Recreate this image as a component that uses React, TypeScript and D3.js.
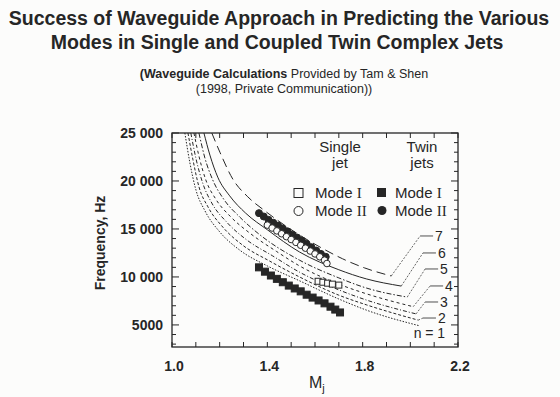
import React from "react";
import * as d3 from "d3";

// axis ticks
const mjTicks = d3.range(10, 23).map(d => d / 10);
const mjLabels = [1.0, 1.4, 1.8, 2.2];
const freqTicks = d3.range(3000, 25001, 1000);
const freqLabels = [5000, 10000, 15000, 20000, 25000];

// waveguide curves, n = 1..7  [Mj, frequency Hz]
const curveN1 = [[1.054, 25000], [1.075, 21900], [1.1, 19100], [1.138, 16900], [1.2, 14700], [1.284, 12800], [1.4, 11150], [1.535, 9600], [1.7, 7700], [1.815, 6550], [2.04, 4900]];
const curveN2 = [[1.067, 25000], [1.088, 22200], [1.113, 19400], [1.151, 17300], [1.213, 15200], [1.297, 13300], [1.41, 11650], [1.535, 10000], [1.7, 8100], [1.815, 7100], [2.033, 5500]];
const curveN3 = [[1.079, 25000], [1.1, 22400], [1.13, 19700], [1.167, 17700], [1.23, 15700], [1.314, 13850], [1.422, 12200], [1.535, 10500], [1.7, 8650], [1.815, 7600], [2.024, 6150]];
const curveN4 = [[1.092, 25000], [1.113, 22600], [1.142, 20100], [1.184, 18100], [1.247, 16250], [1.33, 14500], [1.439, 12650], [1.535, 11150], [1.7, 9250], [1.815, 8250], [2.012, 6900]];
const curveN5 = [[1.113, 25000], [1.138, 22400], [1.171, 20100], [1.217, 18100], [1.284, 16250], [1.376, 14250], [1.535, 11750], [1.7, 9900], [1.815, 8850], [1.987, 7900]];
const curveN6 = [[1.134, 25000], [1.159, 22700], [1.192, 20400], [1.242, 18450], [1.309, 16650], [1.401, 14900], [1.535, 12600], [1.7, 10750], [1.815, 9800], [1.962, 9050]];
const curveN7 = [[1.167, 25000], [1.201, 23000], [1.255, 20200], [1.318, 18350], [1.389, 16900], [1.472, 15400], [1.556, 14050], [1.644, 12800], [1.715, 11900], [1.807, 10950], [1.92, 10100]];

const curveNames = ["n = 1", "2", "3", "4", "5", "6", "7"];
// where each curve label sits (elbow of the leader line)
const labelMj = [2.08, 2.053, 2.062, 2.083, 2.062, 2.053, 2.041];
const labelFreq = [4160, 5720, 7390, 9060, 10830, 12500, 14270];

// measured modes
const twinModeIIMj = [1.365, 1.385, 1.405, 1.425, 1.445, 1.465, 1.485, 1.505, 1.525, 1.545, 1.565, 1.585, 1.605, 1.625, 1.645];
const twinModeIIFreq = [16650, 16300, 15950, 15650, 15350, 15050, 14750, 14400, 14100, 13800, 13450, 13100, 12750, 12400, 12100];
const singleModeIIMj = [1.4, 1.42, 1.44, 1.46, 1.48, 1.5, 1.52, 1.54, 1.56, 1.58, 1.6, 1.62, 1.64, 1.65];
const singleModeIIFreq = [15400, 15100, 14800, 14500, 14200, 13900, 13600, 13300, 13000, 12700, 12400, 12100, 11750, 11400];
const twinModeIMj = [1.365, 1.39, 1.415, 1.44, 1.465, 1.49, 1.515, 1.54, 1.565, 1.59, 1.615, 1.64, 1.665, 1.685, 1.705];
const twinModeIFreq = [11000, 10550, 10150, 9800, 9450, 9100, 8800, 8500, 8150, 7850, 7550, 7250, 6900, 6600, 6300];
const singleModeIMj = [1.613, 1.633, 1.653, 1.673, 1.7];
const singleModeIFreq = [9550, 9450, 9350, 9250, 9150];

const curves = [curveN1, curveN2, curveN3, curveN4, curveN5, curveN6, curveN7];
const dashes = ["1.5,1.5", "3,2", "4,2,1,2", "3,3", "5,2,1.5,2", "none", "9,5"];

const sans = "'Liberation Sans', Arial, sans-serif";
const serif = "'Liberation Serif', 'Times New Roman', serif";
const ink = "#262626";
const paper = "#fcfcfb";

const W = 560, H = 397;
const left = 172, right = 458, top = 133, bottom = 347;

export default function App() {
  const x = d3.scaleLinear().domain([1.0, 2.2]).range([left, right]);
  const y = d3.scaleLinear().domain([2700, 25000]).range([bottom, top]);
  const line = d3.line<number[]>().x(d => x(d[0])).y(d => y(d[1])).curve(d3.curveMonotoneX);
  const yFmt = (v: number) => (v >= 10000 ? `${Math.floor(v / 1000)} 000` : String(v));

  return (
    <svg width={W} height={H} style={{ position: "absolute", left: 0, top: 0, background: paper }}>
      <defs>
        <clipPath id="plot">
          <rect x={left} y={top} width={right - left} height={bottom - top} />
        </clipPath>
      </defs>

      {/* titles */}
      <g fill={ink} fontFamily={sans} textAnchor="middle">
        <text x={279} y={25} fontSize={19.5} fontWeight="bold">Success of Waveguide Approach in Predicting the Various</text>
        <text x={277} y={49} fontSize={19.5} fontWeight="bold">Modes in Single and Coupled Twin Complex Jets</text>
        <text x={284} y={78} fontSize={12.5}>
          <tspan fontWeight="bold">(Waveguide Calculations</tspan> Provided by Tam &amp; Shen
        </text>
        <text x={284} y={93} fontSize={12.5}>(1998, Private Communication))</text>
      </g>

      {/* frame + ticks */}
      <rect x={left} y={top} width={right - left} height={bottom - top} fill="none" stroke={ink} strokeWidth={1.3} />
      <g stroke={ink} strokeWidth={1}>
        {mjTicks.map(t => (
          <g key={"x" + t}>
            <line x1={x(t)} x2={x(t)} y1={bottom} y2={bottom - 5} />
            <line x1={x(t)} x2={x(t)} y1={top} y2={top + 5} />
          </g>
        ))}
        {freqTicks.map(t => {
          const len = t % 5000 === 0 ? 7 : 4;
          return (
            <g key={"y" + t}>
              <line x1={left} x2={left + len} y1={y(t)} y2={y(t)} />
              <line x1={right} x2={right - len} y1={y(t)} y2={y(t)} />
            </g>
          );
        })}
      </g>

      {/* tick labels */}
      <g fill={ink} fontFamily={sans} fontWeight="bold" fontSize={14}>
        {mjLabels.map(t => (
          <text key={t} x={x(t) + 2} y={371} textAnchor="middle">{t.toFixed(1)}</text>
        ))}
        {freqLabels.map(t => (
          <text key={t} x={163} y={y(t) + 5} textAnchor="end">{yFmt(t)}</text>
        ))}
      </g>
      <text transform="translate(105,243) rotate(-90)" textAnchor="middle" fill={ink} fontFamily={sans} fontWeight="bold" fontSize={14}>
        Frequency, Hz
      </text>
      <text x={309} y={388} fill={ink} fontFamily={sans} fontSize={16}>
        M<tspan fontSize={11} dy={4}>j</tspan>
      </text>

      {/* waveguide curves */}
      <g clipPath="url(#plot)" fill="none" stroke={ink} strokeWidth={1}>
        {curves.map((c, i) => (
          <path key={i} d={line(c) || ""} strokeDasharray={dashes[i]} />
        ))}
      </g>

      {/* curve labels with leaders */}
      <g fill={ink} stroke={ink} fontFamily={sans} fontSize={14}>
        {curves.map((c, i) => {
          const end = c[c.length - 1];
          const ex = x(labelMj[i]);
          const ey = y(labelFreq[i]);
          if (i === 0) {
            return <text key={i} x={ex} y={ey + 5} stroke="none" textAnchor="middle">{curveNames[i]}</text>;
          }
          return (
            <g key={i}>
              <line x1={x(end[0])} y1={y(end[1])} x2={ex} y2={ey} strokeWidth={0.7} strokeDasharray="2,1.5" />
              <line x1={ex} y1={ey} x2={ex + 13} y2={ey} strokeWidth={0.8} />
              <text x={ex + 15} y={ey + 5} stroke="none">{curveNames[i]}</text>
            </g>
          );
        })}
      </g>

      {/* measured points */}
      <g stroke={ink} strokeWidth={1}>
        {twinModeIMj.map((m, i) => (
          <rect key={"tI" + i} x={x(m) - 3.5} y={y(twinModeIFreq[i]) - 3.5} width={7} height={7} fill={ink} />
        ))}
        {singleModeIMj.map((m, i) => (
          <rect key={"sI" + i} x={x(m) - 3} y={y(singleModeIFreq[i]) - 3} width={6} height={6} fill={paper} />
        ))}
        {twinModeIIMj.map((m, i) => (
          <circle key={"tII" + i} cx={x(m)} cy={y(twinModeIIFreq[i])} r={3.5} fill={ink} />
        ))}
        {singleModeIIMj.map((m, i) => (
          <circle key={"sII" + i} cx={x(m)} cy={y(singleModeIIFreq[i])} r={3.3} fill={paper} />
        ))}
      </g>

      {/* legend */}
      <g fill={ink} fontFamily={sans} fontSize={15}>
        <text x={340} y={152} textAnchor="middle">Single</text>
        <text x={340} y={168} textAnchor="middle">jet</text>
        <text x={422} y={152} textAnchor="middle">Twin</text>
        <text x={422} y={168} textAnchor="middle">jets</text>
        <rect x={294} y={188.5} width={9} height={9} fill="none" stroke={ink} strokeWidth={1} />
        <text x={315} y={198}>Mode <tspan fontFamily={serif}>I</tspan></text>
        <circle cx={298.5} cy={211} r={4.5} fill="none" stroke={ink} strokeWidth={1} />
        <text x={315} y={216}>Mode <tspan fontFamily={serif}>II</tspan></text>
        <rect x={377} y={188} width={9} height={9} fill={ink} />
        <text x={395} y={198}>Mode <tspan fontFamily={serif}>I</tspan></text>
        <circle cx={382} cy={210.5} r={4.5} fill={ink} />
        <text x={395} y={216}>Mode <tspan fontFamily={serif}>II</tspan></text>
      </g>
    </svg>
  );
}
